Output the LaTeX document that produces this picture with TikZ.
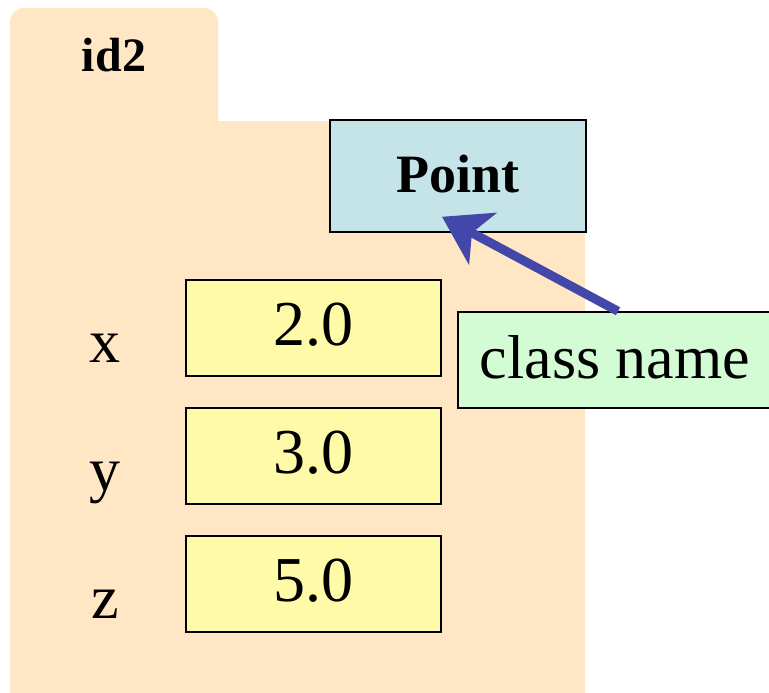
\documentclass[tikz,border=0pt]{standalone}
\usepackage{fontspec}
\setmainfont{Liberation Serif}
\usetikzlibrary{arrows.meta}
\definecolor{folderc}{HTML}{FFE6C4}
\definecolor{pointc}{HTML}{C4E4E8}
\definecolor{valc}{HTML}{FFFAA8}
\definecolor{cnc}{HTML}{D4FCD4}
\definecolor{arrc}{HTML}{4347AA}
\tikzset{
  valbox/.style={draw=black, line width=1.5pt, fill=valc, minimum width=255pt, minimum height=96pt, inner sep=0pt, text depth=8pt, font=\fontsize{64}{70}\selectfont},
  ptbox/.style={draw=black, line width=1.5pt, fill=pointc, minimum width=256pt, minimum height=112pt, inner sep=0pt, text depth=4pt, font=\fontsize{54}{60}\selectfont\bfseries},
  cnbox/.style={draw=black, line width=1.5pt, fill=cnc, minimum width=314pt, minimum height=96pt, inner sep=0pt, text depth=7pt, font=\fontsize{62}{70}\selectfont},
  varlbl/.style={anchor=base, inner sep=0pt, font=\fontsize{62}{70}\selectfont},
  arr/.style={draw=arrc, line width=9pt, -{Stealth[length=46pt, width=58pt, inset=12pt]}}
}
\begin{document}
\begin{tikzpicture}[x=1pt, y=-1pt]
\useasboundingbox (0,0) rectangle (769,693);
% folder
\fill[folderc, rounded corners=14pt] (10,8) rectangle (218,150);
\fill[folderc] (10,121) rectangle (585,700);
\node[anchor=base, inner sep=0pt, font=\fontsize{48}{54}\selectfont\bfseries] (id) at (114,72) {id2};
% class box
\node[ptbox] (pt) at (458,176) {Point};
% values
\node[valbox] (vx) at (313.5,328) {2.0};
\node[valbox] (vy) at (313.5,456) {3.0};
\node[valbox] (vz) at (313.5,584) {5.0};
\node[varlbl] (lx) at (105,362) {x};
\node[varlbl] (ly) at (105,490) {y};
\node[varlbl] (lz) at (105,618) {z};
% class name
\node[cnbox] (cn) at (615,360) {class name};
\draw[arr] ([xshift=3pt]cn.north) -- ([shift={(-16,-16)}]pt.south);
\end{tikzpicture}
\end{document}
